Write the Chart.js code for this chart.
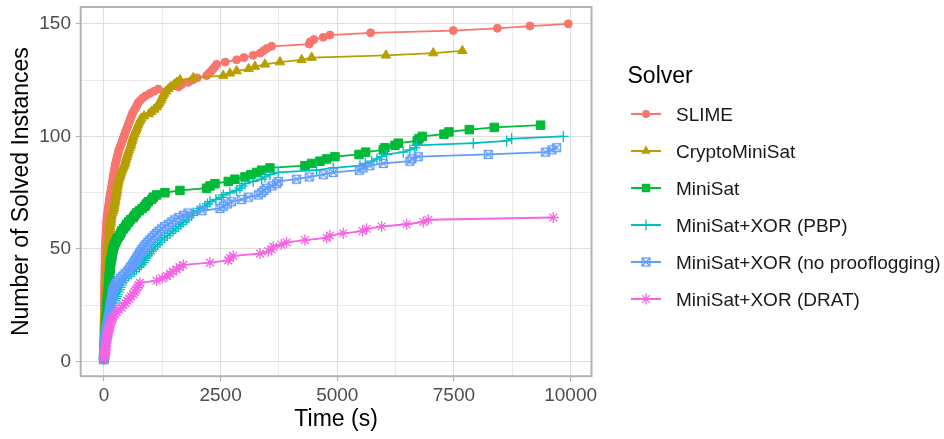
<!DOCTYPE html>
<html>
<head>
<meta charset="utf-8">
<script src="https://cdn.jsdelivr.net/npm/chart.js@4.4.1/dist/chart.umd.min.js"></script>
<style>
  html, body { margin: 0; padding: 0; background: #fff; }
  #wrap { position: relative; width: 944px; height: 439px; font-family: "Liberation Sans", Arial, sans-serif; }
  #chart { position: absolute; left: 0; top: 0; }
  .legend-title { position: absolute; left: 627.5px; top: 63.5px; font-size: 23px; line-height: 23px; color: #000; }
  .legend-item { position: absolute; left: 630.5px; width: 310px; height: 20px; }
  .legend-item svg { position: absolute; left: 0; top: 0; }
  .legend-item span { position: absolute; left: 45.5px; top: 0.7px; font-size: 19px; line-height: 19px; white-space: nowrap; color: #1A1A1A; }
</style>
</head>
<body>
<div id="wrap">
  <canvas id="chart" width="944" height="439"></canvas>
  <div class="legend-title">Solver</div>
  <div id="legend"></div>
</div>
<script>
const solvers = ["SLIME", "CryptoMiniSat", "MiniSat", "MiniSat+XOR (PBP)", "MiniSat+XOR (no prooflogging)", "MiniSat+XOR (DRAT)"];
const colors = ["#F8766D", "#B79F00", "#00BA38", "#00BFC4", "#619CFF", "#F564E3"];

const xTicks = [0, 2500, 5000, 7500, 10000];
const xTickLabels = ["0", "2500", "5000", "7500", "10000"];
const xMinor = [1250, 3750, 6250, 8750];
const yTicks = [0, 50, 100, 150];
const yTickLabels = ["0", "50", "100", "150"];
const yMinor = [25, 75, 125];

// solve time (s) of each instance, sorted -- k-th entry = k instances solved
const slimeTimes = [
  0, 0, 1, 1, 2, 2, 3, 3, 4, 4,
  5, 5, 6, 6, 7, 7, 8, 8, 9, 9,
  10, 10, 11, 11, 12, 12, 13, 13, 14, 15,
  15, 16, 16, 17, 17, 18, 19, 20, 20, 21,
  22, 23, 24, 24, 25, 26, 27, 28, 29, 30,
  32, 34, 36, 38, 40, 42, 45, 48, 51, 54,
  57, 60, 63, 66, 70, 80, 86, 92, 100, 108,
  114, 120, 126, 132, 143, 152, 160, 168, 176, 184,
  192, 200, 208, 216, 224, 232, 240, 250, 262, 274,
  286, 298, 310, 321, 340, 360, 380, 395, 410, 429,
  445, 462, 480, 500, 518, 536, 555, 572, 590, 607,
  630, 660, 690, 715, 736, 780, 830, 893, 980, 1071,
  1164, 1600, 1664, 1807, 1900, 2000, 2200, 2250, 2300, 2340,
  2380, 2415, 2600, 2844, 3000, 3200, 3350, 3420, 3486, 3593,
  4400, 4420, 4500, 4700, 4843, 5715, 7486, 8430, 9130, 9950
];
const cmsTimes = [
  0, 1, 1, 2, 3, 3, 4, 5, 5, 6,
  7, 8, 9, 10, 11, 12, 13, 14, 15, 16,
  21, 23, 25, 27, 29, 31, 33, 35, 37, 39,
  41, 43, 45, 47, 49, 52, 55, 57, 60, 63,
  66, 69, 72, 75, 78, 81, 84, 87, 90, 93,
  97, 101, 105, 109, 113, 117, 121, 125, 129, 133,
  140, 146, 152, 158, 164, 180, 197, 214, 222, 230,
  238, 246, 254, 262, 271, 278, 285, 292, 300, 312,
  325, 340, 355, 370, 390, 410, 430, 450, 462, 475,
  490, 505, 520, 536, 555, 575, 590, 600, 615, 629,
  650, 670, 690, 710, 730, 750, 775, 800, 860, 964,
  1020, 1080, 1129, 1160, 1190, 1220, 1240, 1260, 1290, 1330,
  1380, 1429, 1500, 1560, 1630, 1914, 2557, 2700, 2843, 3100,
  3236, 3450, 3772, 4236, 4450, 6043, 7057, 7680
];
const minisatTimes = [
  0, 1, 2, 3, 5, 7, 9, 12, 16, 22,
  25, 28, 31, 34, 37, 40, 43, 46, 50, 54,
  57, 60, 63, 66, 69, 72, 75, 78, 82, 88,
  93, 96, 99, 102, 105, 108, 112, 116, 120, 125,
  130, 135, 140, 145, 150, 164, 172, 180, 188, 196,
  210, 230, 250, 271, 300, 330, 360, 379, 420, 460,
  486, 530, 570, 629, 660, 700, 760, 820, 879, 910,
  950, 1022, 1057, 1129, 1307, 1629, 2200, 2272, 2379, 2664,
  2807, 3022, 3150, 3272, 3379, 3557, 4307, 4450, 4629, 4772,
  4950, 5465, 5608, 5986, 6022, 6236, 6307, 6714, 6750, 6822,
  7286, 7393, 7829, 8364, 9357
];
const pbpTimes = [
  0, 2, 5, 10, 15, 20, 28, 36, 45, 55,
  65, 75, 85, 93, 100, 110, 120, 130, 140, 150,
  164, 175, 186, 198, 210, 222, 236, 250, 271, 290,
  310, 330, 350, 370, 390, 414, 470, 530, 590, 650,
  700, 760, 800, 840, 870, 900, 940, 980, 1020, 1057,
  1100, 1150, 1200, 1240, 1300, 1360, 1420, 1480, 1540, 1600,
  1650, 1700, 1772, 1820, 1880, 1914, 2000, 2057, 2164, 2220,
  2272, 2400, 2522, 2557, 2700, 2843, 2914, 2960, 3022, 3200,
  3379, 3450, 3557, 3736, 4557, 4914, 5486, 5600, 5736, 5850,
  5950, 6057, 6414, 6557, 6664, 6700, 7914, 8629, 8736, 9843
];
const noProofTimes = [
  0, 1, 2, 4, 6, 8, 10, 13, 16, 20,
  25, 30, 36, 42, 50, 60, 70, 80, 90, 100,
  110, 118, 126, 134, 142, 150, 158, 166, 174, 182,
  190, 200, 215, 240, 270, 307, 350, 400, 450, 500,
  540, 570, 607, 640, 670, 700, 730, 760, 790, 820,
  860, 900, 940, 986, 1030, 1080, 1130, 1180, 1236, 1300,
  1380, 1450, 1520, 1600, 1700, 1800, 2100, 2486, 2557, 2650,
  2736, 2950, 3093, 3307, 3379, 3430, 3486, 3600, 3700, 3736,
  4129, 4400, 4700, 4914, 5472, 5550, 5700, 5986, 6557, 6600,
  6736, 8236, 9464, 9600, 9700
];
const dratTimes = [
  0, 10, 18, 25, 32, 38, 44, 50, 55, 60,
  70, 80, 90, 100, 110, 125, 140, 160, 180, 200,
  240, 271, 320, 380, 414, 460, 500, 540, 580, 629,
  660, 690, 720, 750, 771, 1129, 1250, 1350, 1414, 1480,
  1557, 1620, 1700, 2272, 2664, 2700, 2771, 3343, 3522, 3593,
  3629, 3800, 3914, 4307, 4772, 4843, 5129, 5543, 5629, 5950,
  6486, 6843, 6950, 9629
];

const seriesTimes = [slimeTimes, cmsTimes, minisatTimes, pbpTimes, noProofTimes, dratTimes];

const FONT = '"Liberation Sans", Arial, sans-serif';
Chart.defaults.font.family = FONT;

// square with an X inside (ggplot shape 7), Chart.js has no such point style
function boxCross(color) {
  const c = document.createElement("canvas");
  c.width = 11; c.height = 11;
  const g = c.getContext("2d");
  g.strokeStyle = color;
  g.lineWidth = 1.2;
  g.strokeRect(1.5, 1.5, 8, 8);
  g.beginPath();
  g.moveTo(1.5, 1.5); g.lineTo(9.5, 9.5);
  g.moveTo(9.5, 1.5); g.lineTo(1.5, 9.5);
  g.stroke();
  return c;
}

const marks = [
  { style: "circle", radius: 4, width: 1 },
  { style: "triangle", radius: 5.5, width: 1 },
  { style: "rect", radius: 6, width: 1 },
  { style: "cross", radius: 5.5, width: 1.3 },
  { style: boxCross(colors[4]), radius: 5, width: 1 },
  { style: "star", radius: 5.5, width: 1.3 },
];

const datasets = seriesTimes.map((times, i) => ({
  label: solvers[i],
  data: times.map((t, k) => ({ x: t, y: k + 1 })),
  showLine: true,
  tension: 0,
  borderColor: colors[i],
  backgroundColor: colors[i],
  borderWidth: 1.8,
  pointStyle: marks[i].style,
  pointRadius: marks[i].radius,
  pointBorderWidth: marks[i].width,
  pointBackgroundColor: colors[i],
  pointBorderColor: colors[i],
  order: solvers.length - i,
}));

const isMajor = (list, v) => list.indexOf(v) >= 0;

const panelBorder = {
  id: "panelBorder",
  afterDraw(chart) {
    const { ctx, chartArea: a } = chart;
    ctx.save();
    ctx.strokeStyle = "#B3B3B3";
    ctx.lineWidth = 2;
    ctx.strokeRect(a.left, a.top, a.right - a.left, a.bottom - a.top);
    ctx.restore();
  },
};

new Chart(document.getElementById("chart"), {
  type: "scatter",
  data: { datasets },
  plugins: [panelBorder],
  options: {
    responsive: false,
    animation: false,
    devicePixelRatio: 1,
    layout: { padding: { left: 0, top: 2.5, right: 352.5, bottom: 0 } },
    plugins: { legend: { display: false }, tooltip: { enabled: false } },
    scales: {
      x: {
        type: "linear",
        min: -497.5,
        max: 10447.5,
        afterBuildTicks: (s) => {
          s.ticks = xTicks.concat(xMinor).sort((a, b) => a - b).map((v) => ({ value: v }));
        },
        afterFit: (s) => {
          s.height = 62.8;
          s.paddingLeft = 0; s.paddingRight = 0;
        },
        ticks: {
          autoSkip: false,
          maxRotation: 0,
          color: "#4D4D4D",
          font: { size: 19 },
          padding: 3,
          callback: (v) => (isMajor(xTicks, v) ? xTickLabels[xTicks.indexOf(v)] : ""),
        },
        grid: {
          color: "#DEDEDE",
          lineWidth: (c) => (isMajor(xTicks, c.tick.value) ? 1.1 : 0.6),
          tickLength: 5,
          tickWidth: 1.1,
          tickColor: (c) => (isMajor(xTicks, c.tick.value) ? "#B3B3B3" : "rgba(0,0,0,0)"),
        },
        border: { display: false },
        title: { display: true, text: "Time (s)", color: "#000", font: { size: 23 }, padding: { top: 0, bottom: 5.4 } },
      },
      y: {
        type: "linear",
        min: -6.45,
        max: 157.45,
        afterBuildTicks: (s) => {
          s.ticks = yTicks.concat(yMinor).sort((a, b) => a - b).map((v) => ({ value: v }));
        },
        afterFit: (s) => {
          s.width = 80.7;
          s.paddingTop = 0; s.paddingBottom = 0;
        },
        ticks: {
          autoSkip: false,
          color: "#4D4D4D",
          font: { size: 19 },
          padding: 4.7,
          callback: (v) => (isMajor(yTicks, v) ? yTickLabels[yTicks.indexOf(v)] : ""),
        },
        grid: {
          color: "#DEDEDE",
          lineWidth: (c) => (isMajor(yTicks, c.tick.value) ? 1.1 : 0.6),
          tickLength: 5,
          tickWidth: 1.1,
          tickColor: (c) => (isMajor(yTicks, c.tick.value) ? "#B3B3B3" : "rgba(0,0,0,0)"),
        },
        border: { display: false },
        title: { display: true, text: "Number of Solved Instances", color: "#000", font: { size: 23 }, padding: { top: 7.5, bottom: 0 } },
      },
    },
  },
});

// legend keys: line + marker, like the ggplot guide
function keySvg(i) {
  const c = colors[i];
  let mark = "";
  if (i === 0) mark = `<circle cx="15" cy="10" r="4" fill="${c}"/>`;
  if (i === 1) mark = `<polygon points="15,4.5 19.76,12.75 10.24,12.75" fill="${c}"/>`;
  if (i === 2) mark = `<rect x="10.75" y="5.75" width="8.5" height="8.5" fill="${c}"/>`;
  if (i === 3) mark = `<path d="M15 4.5V15.5M9.5 10H20.5" stroke="${c}" stroke-width="1.3"/>`;
  if (i === 4) mark = `<rect x="11" y="6" width="8" height="8" fill="none" stroke="${c}" stroke-width="1.2"/><path d="M11 6L19 14M19 6L11 14" stroke="${c}" stroke-width="1.2"/>`;
  if (i === 5) mark = `<path d="M15 4.5V15.5M9.5 10H20.5M11.1 6.1L18.9 13.9M18.9 6.1L11.1 13.9" stroke="${c}" stroke-width="1.3"/>`;
  return `<svg width="30" height="20" viewBox="0 0 30 20"><line x1="0" y1="10" x2="30" y2="10" stroke="${c}" stroke-width="2"/>${mark}</svg>`;
}

const legend = document.getElementById("legend");
solvers.forEach((name, i) => {
  const item = document.createElement("div");
  item.className = "legend-item";
  item.style.top = (114.4 + i * 37 - 10) + "px";
  item.innerHTML = keySvg(i) + `<span>${name}</span>`;
  legend.appendChild(item);
});
</script>
</body>
</html>
